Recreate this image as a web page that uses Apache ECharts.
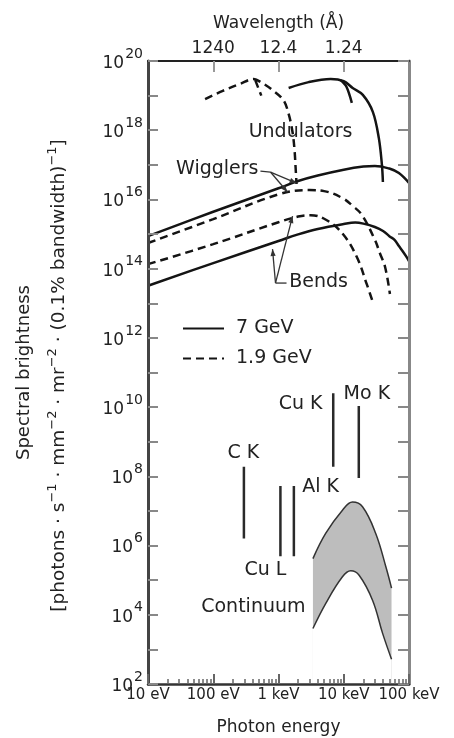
<!DOCTYPE html>
<html><head><meta charset="utf-8">
<script src="https://cdn.jsdelivr.net/npm/echarts@6/dist/echarts.min.js"></script>
<style>html,body{margin:0;padding:0;background:#fff}#c{width:454px;height:738px}</style>
</head><body><div id="c"></div>
<script>
// ---------------- data (energy in eV, brightness in photons/s/mm2/mr2/0.1%BW) ----------------
// 7 GeV undulator (solid) and its short branch
const und7E  = [1430, 2900, 6300, 10000, 13700, 19600, 27900, 34500, 38500, 39800];
const und7B  = [1.66e19, 2.45e19, 3.0e19, 2.6e19, 1.66e19, 1.05e19, 3.4e18, 5.9e17, 9.8e16, 3.2e16];
const und7bE = [9000, 11000, 13300];
const und7bB = [2.8e19, 1.8e19, 6.2e18];
// 1.9 GeV undulator (dashed) and its short branch
const und19E  = [75, 137, 260, 412, 568, 809, 1190, 1430, 1640, 1760, 1830, 1890];
const und19B  = [7.9e18, 1.35e19, 2.2e19, 3.0e19, 2.3e19, 1.45e19, 7.4e18, 2.95e18, 8.9e17, 2.7e17, 8.1e16, 2.8e16];
const und19bE = [440, 545];
const und19bB = [2.8e19, 1.0e19];
// wigglers
const wig7E  = [10, 100, 1000, 2000, 4000, 10000, 20000, 30000, 50000, 70000, 100000];
const wig7B  = [8.7e14, 4.4e15, 2.1e16, 3.4e16, 4.9e16, 7.2e16, 8.9e16, 9.3e16, 7.8e16, 5.8e16, 3.0e16];
const wig19E = [10, 100, 1000, 3000, 5000, 9500, 13700, 19000, 30000, 35800, 43000, 51000];
const wig19B = [5.5e14, 2.7e15, 1.4e16, 1.86e16, 1.74e16, 1.1e16, 6.5e15, 3.55e15, 6.8e14, 2.8e14, 1.12e14, 1.86e13];
// bending magnets
const bend7E  = [10, 100, 1000, 2000, 4000, 10000, 15000, 20000, 30000, 40000, 50000, 60000, 70000, 80000, 90000, 100000];
const bend7B  = [3.2e13, 1.45e14, 6.3e14, 9.8e14, 1.4e15, 1.95e15, 2.15e15, 2.0e15, 1.6e15, 1.23e15, 8.7e14, 6.8e14, 4.5e14, 3.2e14, 2.3e14, 1.66e14];
const bend19E = [10, 100, 1000, 2000, 3100, 5500, 9700, 15800, 22600, 27900];
const bend19B = [1.35e14, 5.1e14, 2.2e15, 3.2e15, 3.5e15, 2.5e15, 1.0e15, 2.2e14, 3.5e13, 1.07e13];
// X-ray tube continuum band
const contUpE = [3370, 5280, 9550, 13600, 19400, 30900, 44300, 54000];
const contUpB = [4.2e5, 2.24e6, 1.05e7, 1.8e7, 1.32e7, 2.24e6, 2.4e5, 5.9e4];
const contLoE = [3370, 5280, 9550, 12800, 17200, 27700, 39400, 54000];
const contLoB = [4.0e3, 2.1e4, 1.25e5, 1.86e5, 1.39e5, 2.6e4, 2.9e3, 5.2e2];
// characteristic lines
const lineNames = ['C K', 'Cu L', 'Al K', 'Cu K', 'Mo K'];
const lineE     = [295, 1070, 1720, 6900, 17000];
const lineTop   = [1.9e8, 5.3e7, 5.3e7, 2.5e10, 1.07e10];
const lineBot   = [1.6e6, 4.9e5, 4.9e5, 1.9e8, 8.9e7];
// axis ticks / labels
const energyTicks  = [10, 100, 1000, 10000, 100000];
const energyLabels = ['10 eV', '100 eV', '1 keV', '10 keV', '100 keV'];
const waveTicks    = [100, 1000, 10000];
const waveLabels   = ['1240', '12.4', '1.24'];
const yLabelExps   = [2, 4, 6, 8, 10, 12, 14, 16, 18, 20];
const legendNames  = ['7 GeV', '1.9 GeV'];

// ---------------- layout / annotations (log10 E, log10 B anchors) ----------------
const annoText = ['Undulators', 'Wigglers', 'Bends', 'C K', 'Cu K', 'Mo K', 'Al K', 'Cu L', 'Continuum'];
const annoLE   = [3.338, 2.062, 3.615, 2.462, 3.338, 4.354, 3.646, 2.800, 2.615];
const annoLB   = [17.948, 16.879, 13.613, 8.671, 10.087, 10.376, 7.688, 5.289, 4.220];

const FONT = 'DejaVu Sans';
const TXT = '#222';
const BLACK = '#141414';

const minorTicks = [];
for (let d = 10; d < 100000; d *= 10) for (let m = 2; m <= 9; m++) minorTicks.push(d * m);
const yDecades = [];
for (let e = 2; e <= 20; e++) yDecades.push(Math.pow(10, e));
const yLabelVals = yLabelExps.map(e => Math.pow(10, e));

const pair = (E, B) => E.map((e, i) => [e, B[i]]);
const near = (a, b) => Math.abs(Math.log10(a) - Math.log10(b)) < 1e-6;

const solid = { color: BLACK, width: 2.5, type: 'solid' };
const dashed = { color: BLACK, width: 2.5, type: [8, 5] };
function curve(name, E, B, style, smooth) {
  return { type: 'line', name, data: pair(E, B), symbol: 'none', smooth: smooth == null ? 0.4 : smooth,
    lineStyle: style, itemStyle: { color: BLACK }, z: 3, silent: true };
}

const series = [
  curve('7 GeV', und7E, und7B, solid, 0.35),
  curve('7 GeV', und7bE, und7bB, solid, 0.3),
  curve('1.9 GeV', und19E, und19B, dashed, 0.35),
  curve('1.9 GeV', und19bE, und19bB, dashed, 0),
  curve('7 GeV', wig7E, wig7B, solid),
  curve('1.9 GeV', wig19E, wig19B, dashed),
  curve('7 GeV', bend7E, bend7B, solid),
  curve('1.9 GeV', bend19E, bend19B, dashed),
  { type: 'line', name: 'continuum-upper', data: pair(contUpE, contUpB), symbol: 'none', smooth: 0.4,
    lineStyle: { color: '#333', width: 1.5 }, areaStyle: { color: '#bdbdbd', opacity: 1, origin: 'start' }, z: 2, silent: true },
  { type: 'line', name: 'continuum-lower', data: pair(contLoE, contLoB), symbol: 'none', smooth: 0.4,
    lineStyle: { color: '#333', width: 1.5 }, areaStyle: { color: '#ffffff', opacity: 1, origin: 'start' }, z: 2, silent: true }
];
lineNames.forEach((n, i) => series.push({
  type: 'line', name: n, data: [[lineE[i], lineTop[i]], [lineE[i], lineBot[i]]], symbol: 'none',
  lineStyle: { color: '#2a2a2a', width: 2.5 }, z: 3, silent: true
}));

const xMin = 10, xMax = 100000, yMin = 1e2, yMax = 1e20;
const option = {
  animation: false,
  backgroundColor: '#fff',
  textStyle: { fontFamily: FONT, color: TXT },
  grid: { left: 148, right: 45, top: 61, bottom: 54, containLabel: false, outerBoundsMode: 'none' },
  legend: {
    data: legendNames, orient: 'vertical', left: 177, top: 314, itemWidth: 41, itemHeight: 14, itemGap: 11,
    itemStyle: { opacity: 0 },
    textStyle: { fontSize: 19, color: TXT, fontFamily: FONT, padding: [0, 0, 0, 7] }, selectedMode: false
  },
  xAxis: [
    { type: 'log', position: 'bottom', min: xMin, max: xMax, z: 6,
      axisLine: { lineStyle: { color: '#333', width: 2.5 } },
      axisTick: { inside: true, length: 10, customValues: energyTicks, lineStyle: { color: '#666', width: 2 } },
      axisLabel: { customValues: energyTicks, margin: 4, fontSize: 15, color: TXT, fontFamily: FONT,
        formatter: v => { const i = energyTicks.findIndex(t => near(t, v)); return i < 0 ? '' : energyLabels[i]; } },
      splitLine: { show: false }, minorTick: { show: false },
      name: 'Photon energy', nameLocation: 'middle', nameGap: 35,
      nameTextStyle: { fontSize: 17, color: TXT, fontFamily: FONT } },
    { type: 'log', position: 'bottom', min: xMin, max: xMax, z: 6,
      axisLine: { show: false },
      axisTick: { inside: true, length: 5, customValues: minorTicks, lineStyle: { color: '#666', width: 1.5 } },
      axisLabel: { show: false }, splitLine: { show: false } },
    { type: 'log', position: 'top', min: xMin, max: xMax, z: 6,
      axisLine: { lineStyle: { color: '#222', width: 2 } },
      axisTick: { inside: true, length: 11, customValues: waveTicks, lineStyle: { color: '#999', width: 2 } },
      axisLabel: { customValues: waveTicks, margin: 4, fontSize: 17, color: TXT, fontFamily: FONT,
        formatter: v => { const i = waveTicks.findIndex(t => near(t, v)); return i < 0 ? '' : waveLabels[i]; } },
      splitLine: { show: false },
      name: 'Wavelength (Å)', nameLocation: 'middle', nameGap: 29,
      nameTextStyle: { fontSize: 17, color: TXT, fontFamily: FONT } }
  ],
  yAxis: [
    { type: 'log', position: 'left', min: yMin, max: yMax, z: 6,
      axisLine: { lineStyle: { color: '#444', width: 3 } },
      axisTick: { inside: true, length: 10, customValues: yDecades, lineStyle: { color: '#888', width: 2 } },
      axisLabel: { customValues: yLabelVals, margin: 5, color: TXT, fontFamily: FONT,
        formatter: v => '{b|10}{s|' + Math.round(Math.log10(v)) + '}',
        rich: { b: { fontSize: 17, fontFamily: FONT, color: TXT, padding: [5, 0, 0, 0] },
                s: { fontSize: 14, fontFamily: FONT, color: TXT, padding: [0, 0, 14, 1] } } },
      splitLine: { show: false } },
    { type: 'log', position: 'right', min: yMin, max: yMax, z: 6,
      axisLine: { lineStyle: { color: '#888', width: 3 } },
      axisTick: { inside: true, length: 11, customValues: yDecades, lineStyle: { color: '#888', width: 2 } },
      axisLabel: { show: false }, splitLine: { show: false } }
  ],
  series
};

const chart = echarts.init(document.getElementById('c'), null, { renderer: 'canvas' });
chart.setOption(option);

// ---------------- annotations ----------------
const px = (le, lb) => chart.convertToPixel({ xAxisIndex: 0, yAxisIndex: 0 }, [Math.pow(10, le), Math.pow(10, lb)]);
const graphics = [];
annoText.forEach((t, i) => {
  const p = px(annoLE[i], annoLB[i]);
  graphics.push({ type: 'text', x: p[0], y: p[1], z: 20, silent: true,
    style: { text: t, fontSize: 19, fontFamily: FONT, fill: TXT, align: 'center', verticalAlign: 'middle',
      textAlign: 'center', textVerticalAlign: 'middle' } });
});
function leader(points) {
  graphics.push({ type: 'polyline', z: 20, silent: true, shape: { points }, style: { stroke: '#333', lineWidth: 1.3, fill: null } });
}
function arrow(from, to) {
  leader([from, to]);
  const dx = to[0] - from[0], dy = to[1] - from[1], L = Math.hypot(dx, dy);
  const ux = dx / L, uy = dy / L, h = 7, w = 2.6;
  const bx = to[0] - ux * h, by = to[1] - uy * h;
  graphics.push({ type: 'polygon', z: 20, silent: true,
    shape: { points: [to, [bx - uy * w, by + ux * w], [bx + uy * w, by - ux * w]] }, style: { fill: '#333' } });
}
// Wigglers leader
const wStart = px(2.723, 16.821), wKnee = px(2.877, 16.792);
leader([wStart, wKnee]);
arrow(wKnee, px(3.277, 16.474));
arrow(wKnee, px(3.138, 16.214));
// Bends leader
const bStart = px(3.123, 13.584), bKnee = px(2.954, 13.584);
leader([bStart, bKnee]);
arrow(bKnee, px(2.908, 14.566));
arrow(bKnee, px(3.215, 15.520));

// rotated y-axis title (two lines)
const gTop = 61, gBot = 738 - 54, yMid = (gTop + gBot) / 2;
graphics.push({ type: 'text', x: 24, y: yMid, rotation: Math.PI / 2, z: 20, silent: true,
  style: { text: 'Spectral brightness', fontSize: 18, fontFamily: FONT, fill: TXT,
    align: 'center', verticalAlign: 'middle', textAlign: 'center', textVerticalAlign: 'middle' } });
graphics.push({ type: 'text', x: 59, y: yMid + 3, rotation: Math.PI / 2, z: 20, silent: true,
  style: { text: '[photons · s{s|−1} · mm{s|−2} · mr{s|−2} · (0.1% bandwidth){s|−1}]',
    fontSize: 18.5, fontFamily: FONT, fill: TXT, align: 'center', verticalAlign: 'middle',
    textAlign: 'center', textVerticalAlign: 'middle',
    rich: { s: { fontSize: 13, fontFamily: FONT, fill: TXT, padding: [0, 0, 12, 0] } } } });

chart.setOption({ graphic: graphics });
</script></body></html>
